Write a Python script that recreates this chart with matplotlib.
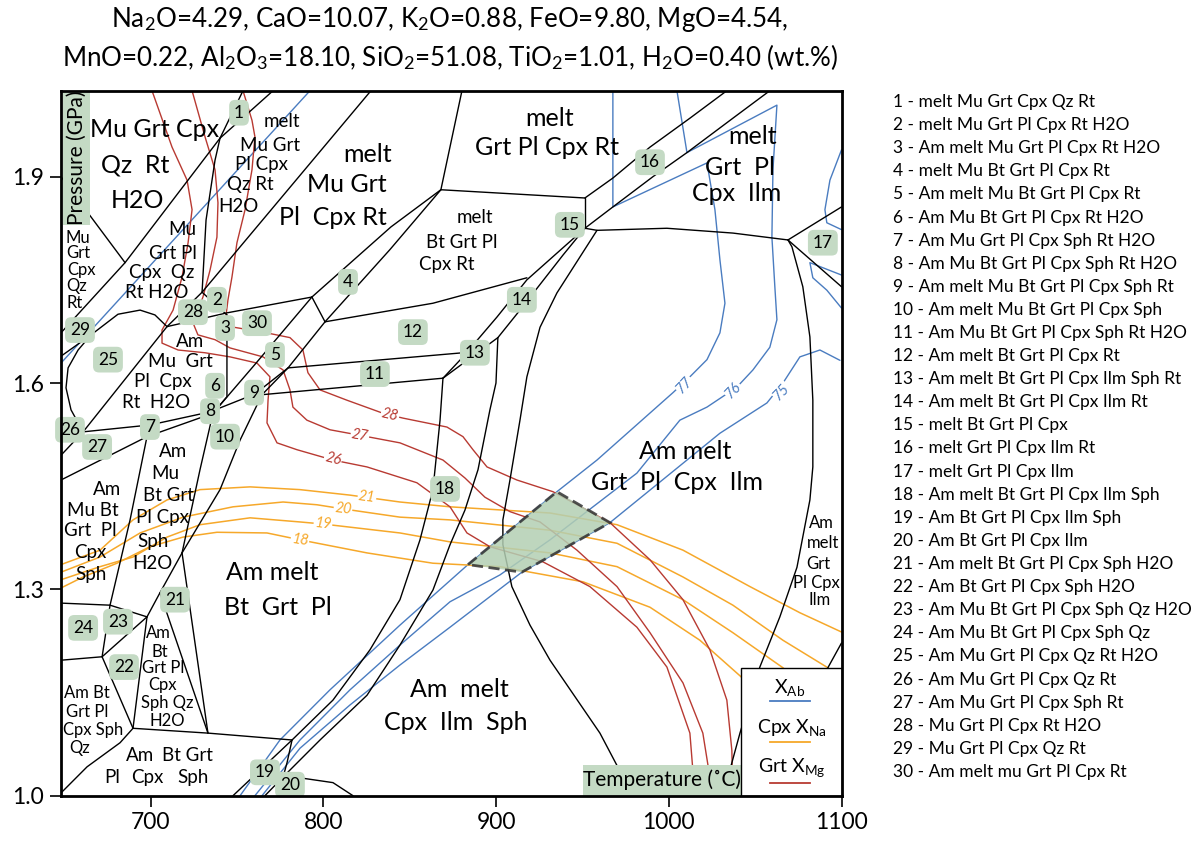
import matplotlib
matplotlib.use("Agg")
import matplotlib.pyplot as plt
from matplotlib.patches import Rectangle, Polygon

plt.rcParams['font.family'] = ['Lato', 'DejaVu Sans']
plt.rcParams['mathtext.fontset'] = 'custom'
plt.rcParams['mathtext.rm'] = 'Lato'
plt.rcParams['mathtext.it'] = 'Lato:italic'
plt.rcParams['mathtext.bf'] = 'Lato:bold'

# ---------------- data (T in deg C, P in GPa) ----------------
X_TICKS = [700, 800, 900, 1000, 1100]
Y_TICKS = [1.0, 1.3, 1.6, 1.9]

BOUNDARIES_UPPER_LEFT = [
    [(753.4, 2.025), (740.1, 1.956)],
    [(770.8, 2.025), (740.1, 1.956)],
    [(740.1, 1.956), (685.1, 1.775), (648.0, 1.673)],
    [(648.0, 1.900), (685.1, 1.775)],
    [(740.1, 1.956), (737.2, 1.924), (732.0, 1.837), (729.7, 1.732)],
    [(827.5, 2.025), (729.7, 1.732), (709.4, 1.682), (660.8, 1.529)],
    [(648.0, 1.639), (665.4, 1.670), (681.0, 1.700), (693.8, 1.706), (702.4, 1.699), (709.4, 1.682)],
    [(665.4, 1.670), (657.9, 1.648), (652.1, 1.622), (650.9, 1.593), (653.8, 1.561), (660.8, 1.529)],
    [(709.4, 1.682), (744.1, 1.702), (793.3, 1.725)],
    [(729.7, 1.732), (744.1, 1.699)],
    [(660.8, 1.529), (648.0, 1.495)],
]

BOUNDARIES_MIDDLE = [
    [(744.1, 1.699), (744.1, 1.580), (736.0, 1.556), (728.5, 1.474), (718.1, 1.353)],
    [(880.2, 2.025), (868.0, 1.881), (839.1, 1.827), (793.3, 1.725)],
    [(800.9, 1.689), (838.5, 1.794), (868.0, 1.881)],
    [(793.3, 1.725), (800.9, 1.689)],
    [(800.9, 1.689), (863.4, 1.716), (917.8, 1.753)],
    [(736.0, 1.556), (760.3, 1.627), (793.3, 1.725)],
    [(800.9, 1.689), (779.5, 1.622), (764.4, 1.583), (751.7, 1.517), (740.1, 1.445), (718.1, 1.353)],
    [(660.8, 1.529), (699.5, 1.539), (734.3, 1.558), (760.3, 1.584), (779.5, 1.622)],
    [(648.0, 1.459), (697.8, 1.522), (736.0, 1.556)],
    [(764.4, 1.583), (869.2, 1.607)],
    [(779.5, 1.622), (880.8, 1.644)],
    [(869.2, 1.607), (901.0, 1.666)],
    [(869.2, 1.607), (880.8, 1.638), (900.5, 1.696), (917.8, 1.750), (951.4, 1.825)],
    [(901.0, 1.666), (913.8, 1.706), (938.7, 1.786), (951.4, 1.825)],
]

BOUNDARIES_LOWER = [
    [(869.2, 1.607), (867.5, 1.546), (863.4, 1.445), (855.9, 1.372), (844.3, 1.285),
     (826.9, 1.212), (805.5, 1.139), (781.8, 1.081), (747.6, 1.000)],
    [(901.0, 1.666), (899.9, 1.600), (896.4, 1.561), (889.5, 1.474), (881.9, 1.415), (873.3, 1.365),
     (863.4, 1.299), (844.3, 1.219), (825.2, 1.146), (798.0, 1.081), (777.7, 1.030), (766.1, 1.000)],
    [(781.8, 1.081), (778.9, 1.048), (776.6, 1.027)],
    [(774.8, 1.027), (786.4, 1.026), (805.5, 1.019), (817.1, 1.000)],
    [(689.7, 1.098), (733.1, 1.091), (781.8, 1.081)],
    [(648.0, 1.280), (676.4, 1.277), (697.8, 1.260)],
    [(697.8, 1.522), (688.0, 1.401), (676.4, 1.277)],
    [(676.4, 1.277), (671.8, 1.202), (689.7, 1.098)],
    [(648.0, 1.197), (671.8, 1.202)],
    [(671.8, 1.202), (697.8, 1.260)],
    [(697.8, 1.260), (689.7, 1.098)],
    [(689.7, 1.098), (682.2, 1.077), (663.1, 1.042), (648.0, 1.004)],
    [(697.8, 1.260), (705.3, 1.295), (718.1, 1.353)],
    [(705.3, 1.295), (733.1, 1.091)],
    [(718.1, 1.353), (733.1, 1.091)],
]

BOUNDARIES_HIGH_T = [
    [(868.0, 1.881), (951.4, 1.869)],
    [(951.4, 1.869), (951.4, 1.825)],
    [(951.4, 1.869), (967.6, 1.898), (989.1, 1.943), (1012.2, 1.985), (1033.6, 2.025)],
    [(951.4, 1.825), (967.6, 1.856), (990.8, 1.900), (1010.5, 1.935), (1037.1, 1.985), (1058.5, 2.025)],
    [(951.4, 1.825), (958.4, 1.822), (998.9, 1.825), (1037.1, 1.818), (1069.0, 1.808)],
    [(1069.0, 1.808), (1100.0, 1.856)],
    [(1069.0, 1.808), (1100.0, 1.740)],
    [(1069.0, 1.808), (1071.3, 1.798), (1077.6, 1.740), (1081.7, 1.667), (1083.4, 1.575),
     (1083.4, 1.478), (1081.7, 1.430), (1074.2, 1.332), (1064.3, 1.260), (1052.7, 1.187),
     (1041.2, 1.091), (1031.3, 1.000)],
    [(1100.0, 1.222), (1092.1, 1.186), (1084.6, 1.139)],
    [(958.4, 1.822), (935.2, 1.731), (925.4, 1.681), (917.8, 1.609), (913.8, 1.546), (908.0, 1.459),
     (903.9, 1.401), (903.9, 1.365), (909.1, 1.304), (919.6, 1.248), (931.2, 1.197),
     (960.1, 1.091), (979.2, 1.000)],
]

# X_Ab isopleths (blue)
XAB_UPPER = [(792.2, 2.025), (648.0, 1.629)]
XAB_77 = [(967.6, 2.025), (967.6, 1.856), (1022.1, 1.920), (1026.7, 1.852), (1029.6, 1.779),
          (1032.5, 1.716), (1029.6, 1.673), (1022.1, 1.634), (1012.2, 1.609), (1002.4, 1.586),
          (958.4, 1.488), (935.2, 1.442), (883.7, 1.336), (844.3, 1.248), (803.8, 1.154),
          (774.8, 1.081), (751.7, 1.000)]
XAB_76 = [(1004.7, 2.025), (1010.5, 1.935), (1062.6, 2.004), (1060.3, 1.910), (1059.7, 1.812),
          (1061.4, 1.740), (1062.6, 1.692), (1058.5, 1.652), (1048.7, 1.619), (1039.4, 1.594),
          (1022.1, 1.565), (1006.4, 1.546), (981.5, 1.469), (931.2, 1.372), (902.2, 1.321),
          (873.3, 1.282), (844.3, 1.219), (815.4, 1.154), (786.4, 1.081), (760.3, 1.000)]
XAB_75 = [(1099.1, 1.633), (1087.5, 1.648), (1075.9, 1.638), (1066.1, 1.600), (1056.8, 1.571),
          (1029.6, 1.527), (1010.5, 1.488), (965.9, 1.397), (914.9, 1.325), (873.3, 1.245),
          (844.3, 1.190), (815.4, 1.132), (786.4, 1.069), (764.4, 1.000)]
XAB_75_LOOP_A = [(1100.0, 1.939), (1093.3, 1.895), (1090.4, 1.852), (1091.5, 1.833), (1100.0, 1.823)]
XAB_75_LOOP_B = [(1100.0, 1.757), (1081.7, 1.775), (1083.4, 1.753), (1091.5, 1.735), (1100.0, 1.709)]

# Cpx X_Na isopleths (orange)
CPX_XNA_21 = [(648.0, 1.336), (670.6, 1.357), (689.7, 1.401), (709.4, 1.430), (728.5, 1.445),
              (757.5, 1.449), (786.4, 1.445), (815.4, 1.437), (844.3, 1.427), (873.3, 1.420),
              (931.2, 1.411), (970.0, 1.394), (1008.2, 1.357), (1047.0, 1.304), (1075.9, 1.266),
              (1100.0, 1.238)]
CPX_XNA_20 = [(648.0, 1.325), (670.6, 1.347), (693.8, 1.382), (718.7, 1.405), (747.6, 1.420),
              (776.6, 1.427), (796.2, 1.423), (811.3, 1.417), (844.3, 1.405), (873.3, 1.401),
              (931.2, 1.386), (970.0, 1.367), (1008.2, 1.318), (1037.1, 1.277), (1066.1, 1.226),
              (1092.1, 1.186), (1100.0, 1.171)]
CPX_XNA_19 = [(648.0, 1.314), (670.6, 1.333), (689.7, 1.347), (709.4, 1.376), (728.5, 1.394),
              (757.5, 1.404), (786.4, 1.398), (799.7, 1.395), (844.3, 1.382), (873.3, 1.369),
              (931.2, 1.353), (970.0, 1.333), (1008.2, 1.285), (1037.1, 1.237), (1066.1, 1.186),
              (1075.9, 1.161)]
CPX_XNA_18 = [(648.0, 1.302), (660.8, 1.318), (680.4, 1.338), (699.5, 1.362), (718.7, 1.376),
              (738.3, 1.383), (767.3, 1.382), (786.4, 1.372), (825.2, 1.353), (863.4, 1.338),
              (902.2, 1.333), (950.3, 1.311), (989.1, 1.274), (1018.0, 1.226), (1041.8, 1.173),
              (1052.7, 1.139)]

# Grt X_Mg isopleths (red)
GRT_XMG_28 = [(753.4, 2.025), (758.6, 1.982), (760.3, 1.958), (758.6, 1.910), (754.6, 1.852),
              (749.9, 1.804), (747.0, 1.754), (744.7, 1.721), (743.6, 1.699), (745.9, 1.682),
              (765.0, 1.674), (780.6, 1.666), (788.1, 1.648), (791.0, 1.615), (798.0, 1.590),
              (813.6, 1.575), (834.5, 1.556), (846.0, 1.549), (871.5, 1.536), (880.8, 1.522),
              (886.6, 1.503), (894.7, 1.478), (912.0, 1.459), (932.9, 1.442), (965.9, 1.397),
              (989.1, 1.343), (1008.2, 1.285), (1023.8, 1.212), (1033.6, 1.139), (1036.5, 1.066),
              (1037.1, 1.000)]
GRT_XMG_27 = [(723.9, 2.025), (731.4, 1.958), (737.2, 1.910), (738.9, 1.862), (738.3, 1.812),
              (734.3, 1.764), (730.2, 1.725), (727.3, 1.706), (725.0, 1.684), (727.3, 1.670),
              (737.2, 1.663), (745.9, 1.651), (765.0, 1.638), (776.6, 1.619), (780.6, 1.590),
              (782.3, 1.565), (790.4, 1.546), (803.8, 1.532), (821.1, 1.524), (844.3, 1.513),
              (869.2, 1.488), (881.9, 1.462), (893.5, 1.434), (908.0, 1.413), (925.4, 1.398),
              (946.8, 1.357), (970.0, 1.304), (989.1, 1.237), (1008.2, 1.164), (1019.7, 1.091),
              (1025.5, 1.000)]
GRT_XMG_26 = [(700.7, 2.025), (712.3, 1.943), (721.0, 1.895), (723.9, 1.852), (721.6, 1.804),
              (718.1, 1.754), (712.9, 1.706), (706.5, 1.677), (706.5, 1.658), (715.8, 1.648),
              (731.4, 1.644), (745.9, 1.638), (761.5, 1.629), (769.0, 1.609), (767.9, 1.575),
              (767.3, 1.542), (773.1, 1.513), (784.7, 1.503), (805.5, 1.488), (825.2, 1.478),
              (854.1, 1.455), (873.3, 1.420), (883.1, 1.382), (896.4, 1.362), (927.1, 1.340),
              (954.3, 1.304), (981.5, 1.245), (998.9, 1.187), (1012.2, 1.091), (1015.1, 1.000)]

# best-fit P-T field (shaded)
PT_FIELD = [(883.7, 1.336), (935.2, 1.442), (965.9, 1.397), (914.9, 1.325)]

# isopleth labels: (T, P, text, rotation)
XAB_LABELS = [(1009.3, 1.597, '77', 47), (1037.1, 1.590, '76', 47), (1065.5, 1.587, '75', 47)]
CPX_LABELS = [(825.2, 1.434, '21', -7), (811.3, 1.417, '20', -6), (799.7, 1.395, '19', -6),
              (786.4, 1.372, '18', -8)]
GRT_LABELS = [(838.5, 1.553, '28', -13), (821.1, 1.524, '27', -10), (805.5, 1.490, '26', -14)]

# numbered small fields: (T, P, number)
FIELD_NUMBERS = [
    (751.1, 1.993, 1), (738.3, 1.721, 2), (743.0, 1.680, 3), (814.2, 1.747, 4), (771.9, 1.641, 5),
    (737.2, 1.596, 6), (699.5, 1.536, 7), (734.3, 1.559, 8), (759.8, 1.586, 9), (743.0, 1.522, 10),
    (829.8, 1.613, 11), (851.8, 1.674, 12), (887.7, 1.644, 13), (914.9, 1.721, 14), (942.7, 1.830, 15),
    (989.1, 1.921, 16), (1089.2, 1.804, 17), (870.4, 1.446, 18), (766.1, 1.034, 19), (780.6, 1.016, 20),
    (714.0, 1.285, 21), (684.5, 1.187, 22), (681.0, 1.253, 23), (660.8, 1.244, 24), (675.2, 1.634, 25),
    (653.2, 1.532, 26), (668.9, 1.507, 27), (724.4, 1.703, 28), (659.0, 1.677, 29), (761.5, 1.687, 30),
]

FIELD_LABELS_LARGE = [
    (702.4, 1.968, 'Mu Grt Cpx'), (690.9, 1.917, 'Qz  Rt'), (692.0, 1.866, 'H2O'),
    (825.8, 1.932, 'melt'), (813.6, 1.888, 'Mu Grt'), (805.5, 1.841, 'Pl  Cpx Rt'),
    (931.2, 1.985, 'melt'), (929.4, 1.943, 'Grt Pl Cpx Rt'),
    (1048.7, 1.958, 'melt'), (1041.2, 1.914, 'Grt  Pl'), (1039.4, 1.876, 'Cpx  Ilm'),
    (1009.3, 1.500, 'Am melt'), (1004.7, 1.456, 'Grt  Pl  Cpx  Ilm'),
    (770.2, 1.325, 'Am melt'), (773.7, 1.274, 'Bt  Grt  Pl'),
    (878.5, 1.154, 'Am  melt'), (876.7, 1.107, 'Cpx  Ilm  Sph'),
]
FIELD_LABELS_MEDIUM = [
    (887.7, 1.840, 'melt'), (880.2, 1.805, 'Bt Grt Pl'), (871.5, 1.772, 'Cpx Rt'),
    (776.0, 1.980, 'melt'), (769.0, 1.946, 'Mu Grt'), (764.4, 1.917, 'Pl Cpx'),
    (757.5, 1.888, 'Qz Rt'), (750.5, 1.856, 'H2O'),
    (718.1, 1.823, 'Mu'), (712.9, 1.789, 'Grt Pl'), (706.5, 1.760, 'Cpx  Qz'), (703.6, 1.732, 'Rt H2O'),
    (722.7, 1.660, 'Am'), (716.9, 1.631, 'Mu  Grt'), (707.1, 1.602, 'Pl  Cpx'), (703.0, 1.572, 'Rt  H2O'),
    (712.9, 1.500, 'Am'), (708.2, 1.469, 'Mu'), (710.0, 1.437, 'Bt Grt'), (706.5, 1.405, 'Pl Cpx'),
    (701.3, 1.369, 'Sph'), (700.7, 1.338, 'H2O'),
    (674.7, 1.445, 'Am'), (666.5, 1.415, 'Mu Bt'), (664.8, 1.386, 'Grt  Pl'), (664.8, 1.353, 'Cpx'),
    (665.4, 1.321, 'Sph'),
    (693.8, 1.059, 'Am'), (721.0, 1.059, 'Bt Grt'), (677.5, 1.027, 'Pl'), (697.8, 1.027, 'Cpx'),
    (724.5, 1.027, 'Sph'),
]
FIELD_LABELS_SMALL = [
    (657.9, 1.811, 'Mu'), (657.9, 1.789, 'Grt'), (659.6, 1.764, 'Cpx'), (657.3, 1.741, 'Qz'),
    (656.1, 1.716, 'Rt'),
    (704.2, 1.237, 'Am'), (705.3, 1.209, 'Bt'), (707.1, 1.186, 'Grt Pl'), (706.5, 1.161, 'Cpx'),
    (709.4, 1.135, 'Sph Qz'), (709.4, 1.109, 'H2O'),
    (663.1, 1.149, 'Am Bt'), (663.1, 1.122, 'Grt Pl'), (666.5, 1.096, 'Cpx Sph'), (659.0, 1.069, 'Qz'),
    (1088.6, 1.397, 'Am'), (1089.2, 1.367, 'melt'), (1086.3, 1.337, 'Grt'), (1085.7, 1.309, 'Pl Cpx'),
    (1087.5, 1.285, 'Ilm'),
]

ASSEMBLAGES = [
    "melt Mu Grt Cpx Qz Rt", "melt Mu Grt Pl Cpx Rt H2O", "Am melt Mu Grt Pl Cpx Rt H2O",
    "melt Mu Bt Grt Pl Cpx Rt", "Am melt Mu Bt Grt Pl Cpx Rt", "Am Mu Bt Grt Pl Cpx Rt H2O",
    "Am Mu Grt Pl Cpx Sph Rt H2O", "Am Mu Bt Grt Pl Cpx Sph Rt H2O", "Am melt Mu Bt Grt Pl Cpx Sph Rt",
    "Am melt Mu Bt Grt Pl Cpx Sph", "Am Mu Bt Grt Pl Cpx Sph Rt H2O", "Am melt Bt Grt Pl Cpx Rt",
    "Am melt Bt Grt Pl Cpx Ilm Sph Rt", "Am melt Bt Grt Pl Cpx Ilm Rt", "melt Bt Grt Pl Cpx",
    "melt Grt Pl Cpx Ilm Rt", "melt Grt Pl Cpx Ilm", "Am melt Bt Grt Pl Cpx Ilm Sph",
    "Am Bt Grt Pl Cpx Ilm Sph", "Am Bt Grt Pl Cpx Ilm", "Am melt Bt Grt Pl Cpx Sph H2O",
    "Am Bt Grt Pl Cpx Sph H2O", "Am Mu Bt Grt Pl Cpx Sph Qz H2O", "Am Mu Bt Grt Pl Cpx Sph Qz",
    "Am Mu Grt Pl Cpx Qz Rt H2O", "Am Mu Grt Pl Cpx Qz Rt", "Am Mu Grt Pl Cpx Sph Rt",
    "Mu Grt Pl Cpx Rt H2O", "Mu Grt Pl Cpx Qz Rt", "Am melt mu Grt Pl Cpx Rt",
]

TITLE_LINE_1 = r"Na$_2$O=4.29, CaO=10.07, K$_2$O=0.88, FeO=9.80, MgO=4.54,"
TITLE_LINE_2 = r"MnO=0.22, Al$_2$O$_3$=18.10, SiO$_2$=51.08, TiO$_2$=1.01, H$_2$O=0.40 (wt.%)"

# ---------------- styles ----------------
BLUE = '#4a7cc0'
ORANGE = '#f6a82a'
RED = '#b83a32'
GREEN = '#c4dac4'
W, H = 1199, 841

fig = plt.figure(figsize=(W / 100, H / 100), dpi=100)
ax = fig.add_axes([61 / W, (H - 795.7) / H, 780.5 / W, 705 / H])
ax.set_xlim(648, 1100)
ax.set_ylim(1.0, 2.025)

def draw(lines, **kw):
    for ln in lines:
        xs = [p[0] for p in ln]
        ys = [p[1] for p in ln]
        ax.plot(xs, ys, solid_joinstyle='round', solid_capstyle='round', **kw)

for group in (BOUNDARIES_UPPER_LEFT, BOUNDARIES_MIDDLE, BOUNDARIES_LOWER, BOUNDARIES_HIGH_T):
    draw(group, color='black', lw=1.0, zorder=3)

draw([XAB_UPPER, XAB_77, XAB_76, XAB_75, XAB_75_LOOP_A, XAB_75_LOOP_B], color=BLUE, lw=1.0, zorder=2)
draw([CPX_XNA_21, CPX_XNA_20, CPX_XNA_19, CPX_XNA_18], color=ORANGE, lw=1.1, zorder=2)
draw([GRT_XMG_28, GRT_XMG_27, GRT_XMG_26], color=RED, lw=1.0, zorder=2)

ax.add_patch(Polygon(PT_FIELD, closed=True, facecolor='#b3cfb3', alpha=0.85,
                     edgecolor='#333333', lw=2.0, ls=(0, (4, 2)), zorder=4))

for lbls, col in ((XAB_LABELS, BLUE), (CPX_LABELS, ORANGE), (GRT_LABELS, RED)):
    for t, p, s, r in lbls:
        ax.text(t, p, s, color=col, fontsize=10.5, style='italic', rotation=r,
                ha='center', va='center', rotation_mode='anchor', zorder=5,
                bbox=dict(facecolor='white', edgecolor='none', pad=0.6))

for t, p, n in FIELD_NUMBERS:
    ax.text(t, p, str(n), fontsize=12.5, ha='center', va='center', zorder=7,
            bbox=dict(boxstyle='round,pad=0.28,rounding_size=0.35', facecolor=GREEN, edgecolor='none'))

for lbls, fs in ((FIELD_LABELS_LARGE, 18), (FIELD_LABELS_MEDIUM, 13.5), (FIELD_LABELS_SMALL, 12)):
    for t, p, s in lbls:
        ax.text(t, p, s, fontsize=fs, ha='center', va='center', zorder=6)

# axis label boxes
ax.add_patch(Rectangle((649.3, 1.830), 15.6, 0.195, facecolor=GREEN, edgecolor='none', zorder=5))
ax.text(656.9, 1.927, 'Pressure (GPa)', rotation=90, fontsize=15, ha='center', va='center', zorder=6)
ax.add_patch(Rectangle((950.3, 1.0), 91.5, 0.045, facecolor=GREEN, edgecolor='none', zorder=5))
ax.text(995.9, 1.023, 'Temperature (˚C)', fontsize=15, ha='center', va='center', zorder=6)

# legend box
ax.add_patch(Rectangle((1041.8, 1.0), 58.2, 0.186, facecolor='white', edgecolor='black', lw=1.0, zorder=8))
ax.text(1070.1, 1.158, r'X$_{\mathregular{Ab}}$', fontsize=14, ha='center', va='center', zorder=9)
ax.plot([1058.5, 1081.7], [1.138, 1.138], color=BLUE, lw=1.3, zorder=9)
ax.text(1071.3, 1.099, r'Cpx X$_{\mathregular{Na}}$', fontsize=14, ha='center', va='center', zorder=9)
ax.plot([1058.5, 1081.7], [1.078, 1.078], color=ORANGE, lw=1.3, zorder=9)
ax.text(1071.3, 1.041, r'Grt X$_{\mathregular{Mg}}$', fontsize=14, ha='center', va='center', zorder=9)
ax.plot([1058.5, 1081.7], [1.019, 1.019], color=RED, lw=1.3, zorder=9)

ax.set_xticks(X_TICKS)
ax.set_yticks(Y_TICKS)
ax.set_xticklabels([str(v) for v in X_TICKS])
ax.set_yticklabels([f"{v:.1f}" for v in Y_TICKS])
ax.tick_params(direction='out', length=8, width=1.2, labelsize=16.5, pad=4)
for sp in ax.spines.values():
    sp.set_linewidth(2.0)
    sp.set_zorder(10)

fig.text(450 / W, 1 - 20 / H, TITLE_LINE_1, fontsize=18.7, ha='center', va='center')
fig.text(450 / W, 1 - 57 / H, TITLE_LINE_2, fontsize=18.7, ha='center', va='center')

for i, a in enumerate(ASSEMBLAGES):
    y = 102 + i * 23.1
    fig.text(893 / W, 1 - y / H, f"{i + 1} - {a}", fontsize=12.5, ha='left', va='center')

fig.savefig('out.png', dpi=100)
